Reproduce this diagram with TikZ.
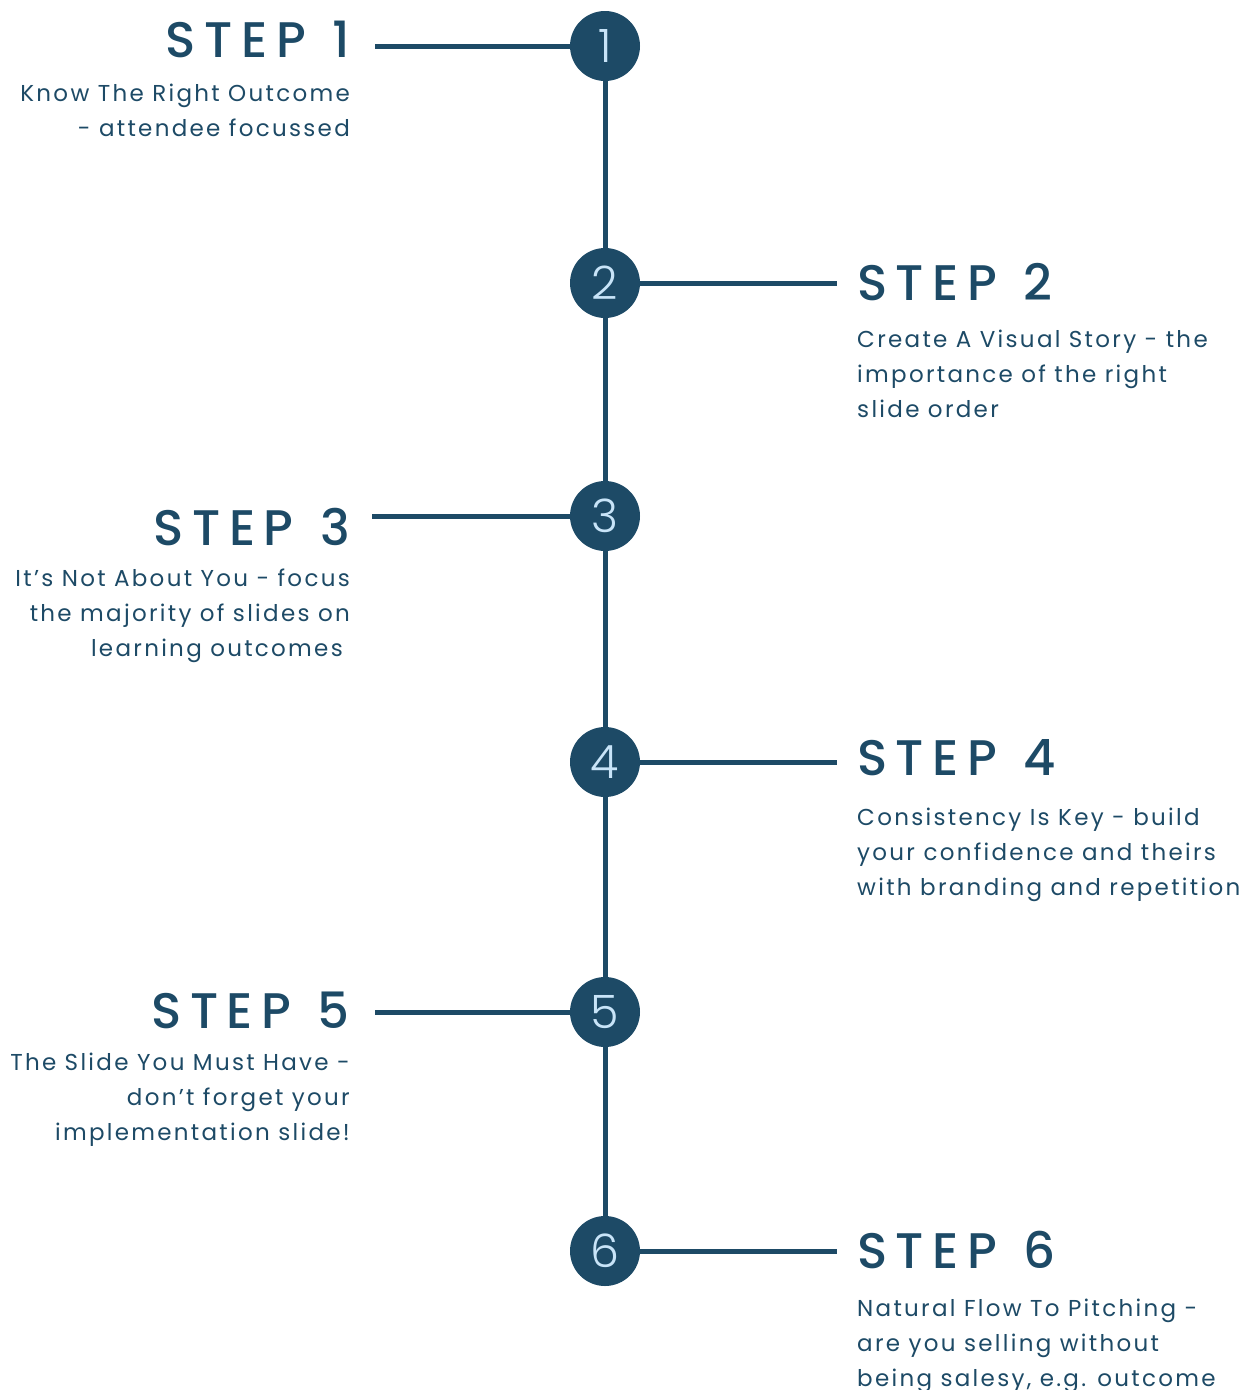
\documentclass[tikz,border=0pt]{standalone}
\usepackage{fontspec}
\setmainfont{Poppins}
\newfontfamily\headfont{Poppins Medium}[LetterSpace=17]
\newfontfamily\bodyfont{Poppins}[LetterSpace=10]
\newfontfamily\numfont{Poppins Light}
\definecolor{navy}{HTML}{1D4A66}
\definecolor{pale}{HTML}{C8E4F8}
\newcommand{\bodylines}[2]{{\bodyfont\fontsize{23}{35}\selectfont\begin{tabular}[t]{@{}#1@{}}#2\end{tabular}}}
\begin{document}
\begin{tikzpicture}[x=1pt,y=-1pt,
  stepdot/.style={circle,fill=navy,minimum size=70pt,inner sep=0pt,text=pale,font=\numfont\fontsize{46}{46}\selectfont},
  link/.style={draw=navy,line width=5pt},
  headtext/.style={text=navy,inner sep=0pt,font=\headfont\fontsize{50}{50}\selectfont},
  bodytext/.style={text=navy,inner sep=0pt}]
\useasboundingbox (0,0) rectangle (1250,1390);
\clip (0,0) rectangle (1250,1390);
% circles
\node[stepdot] (c1) at (605,46) {1};
\node[stepdot] (c2) at (605,283) {2};
\node[stepdot] (c3) at (605,516) {3};
\node[stepdot] (c4) at (605,762) {4};
\node[stepdot] (c5) at (605,1012) {5};
\node[stepdot] (c6) at (605,1251) {6};
% spine
\draw[link] (c1) -- (c2);
\draw[link] (c2) -- (c3);
\draw[link] (c3) -- (c4);
\draw[link] (c4) -- (c5);
\draw[link] (c5) -- (c6);
% arms
\coordinate (e1) at (375,46);
\coordinate (e2) at (837,283);
\coordinate (e3) at (372,516);
\coordinate (e4) at (837,762);
\coordinate (e5) at (375,1012);
\coordinate (e6) at (837,1251);
\draw[link] (e1) -- (c1);
\draw[link] (c2) -- (e2);
\draw[link] (e3) -- (c3);
\draw[link] (c4) -- (e4);
\draw[link] (e5) -- (c5);
\draw[link] (c6) -- (e6);
% headings
\node[headtext,anchor=base east] (h1) at (350,57) {STEP\hspace{5pt} 1};
\node[headtext,anchor=base west] (h2) at (857,300) {STEP\hspace{5pt} 2};
\node[headtext,anchor=base east] (h3) at (350,545) {STEP\hspace{5pt} 3};
\node[headtext,anchor=base west] (h4) at (857,775) {STEP\hspace{5pt} 4};
\node[headtext,anchor=base east] (h5) at (350,1028) {STEP\hspace{5pt} 5};
\node[headtext,anchor=base west] (h6) at (857,1268) {STEP\hspace{5pt} 6};
% bodies
\node[bodytext,anchor=base east] (b1) at (350,101) {\bodylines{r}{Know The Right Outcome\\- attendee focussed}};
\node[bodytext,anchor=base west] (b2) at (857,347) {\bodylines{l}{Create A Visual Story - the\\importance of the right\\slide order}};
\node[bodytext,anchor=base east] (b3) at (350,586) {\bodylines{r}{It’s Not About You - focus\\the majority of slides on\\learning outcomes\kern7pt}};
\node[bodytext,anchor=base west] (b4) at (857,825) {\bodylines{l}{Consistency Is Key - build\\your confidence and theirs\\with branding and repetition}};
\node[bodytext,anchor=base east] (b5) at (350,1070) {\bodylines{r}{The Slide You Must Have -\\don’t forget your\\implementation slide!}};
\node[bodytext,anchor=base west] (b6) at (857,1316) {\bodylines{l}{Natural Flow To Pitching -\\are you selling without\\being salesy, e.g. outcome}};
\end{tikzpicture}
\end{document}
